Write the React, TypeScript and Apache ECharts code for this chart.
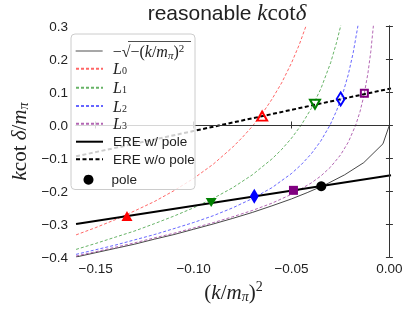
import React, { useEffect, useRef } from 'react';
import * as echarts from 'echarts';

// ---------- data ----------
const X_TICKS = [-0.15, -0.1, -0.05, 0];

const SQRT_CURVE: number[][] = [
  [-0.16, -0.4], [-0.15, -0.387], [-0.14, -0.374], [-0.13, -0.361], [-0.12, -0.346],
  [-0.11, -0.332], [-0.1, -0.316], [-0.09, -0.3], [-0.08, -0.283], [-0.07, -0.265],
  [-0.06, -0.245], [-0.05, -0.224], [-0.042, -0.205], [-0.0327, -0.181], [-0.0229, -0.151],
  [-0.0131, -0.114], [-0.0033, -0.057], [0, 0],
];

const L0_CURVE: number[][] = [
  [-0.16, -0.333], [-0.15, -0.311], [-0.14, -0.287], [-0.13, -0.26], [-0.12, -0.232],
  [-0.11, -0.199], [-0.1, -0.162], [-0.09, -0.119], [-0.08, -0.067], [-0.075, -0.037],
  [-0.07, -0.004], [-0.065, 0.034], [-0.06, 0.078], [-0.055, 0.128], [-0.05, 0.188],
  [-0.046, 0.244], [-0.0426, 0.3], [-0.04, 0.349],
];

const L1_CURVE: number[][] = [
  [-0.16, -0.377], [-0.15, -0.359], [-0.14, -0.34], [-0.13, -0.321], [-0.12, -0.299],
  [-0.11, -0.276], [-0.1, -0.251], [-0.09, -0.2225], [-0.08, -0.19], [-0.07, -0.151],
  [-0.06, -0.103], [-0.055, -0.074], [-0.05, -0.04], [-0.045, 0], [-0.04, 0.049],
  [-0.035, 0.11], [-0.03, 0.189], [-0.027, 0.25], [-0.0249, 0.3], [-0.023, 0.354],
];

const L2_CURVE: number[][] = [
  [-0.16, -0.392], [-0.15, -0.378], [-0.14, -0.364], [-0.13, -0.348], [-0.12, -0.332],
  [-0.11, -0.314], [-0.1, -0.2955], [-0.09, -0.275], [-0.08, -0.251], [-0.07, -0.223],
  [-0.06, -0.19], [-0.05, -0.147], [-0.045, -0.12], [-0.04, -0.088], [-0.035, -0.048],
  [-0.0303, 0], [-0.027, 0.043], [-0.024, 0.0915], [-0.021, 0.153], [-0.0185, 0.219],
  [-0.0161, 0.3], [-0.015, 0.346],
];

const L3_CURVE: number[][] = [
  [-0.16, -0.397], [-0.15, -0.384], [-0.14, -0.3705], [-0.13, -0.357], [-0.12, -0.342],
  [-0.11, -0.328], [-0.1, -0.312], [-0.09, -0.296], [-0.08, -0.278], [-0.07, -0.259],
  [-0.06, -0.237], [-0.05, -0.21], [-0.04, -0.176], [-0.035, -0.1545], [-0.03, -0.127],
  [-0.025, -0.091], [-0.021, -0.052], [-0.0172, 0], [-0.015, 0.041], [-0.013, 0.09],
  [-0.011, 0.156], [-0.0095, 0.223], [-0.0082, 0.3], [-0.0075, 0.352],
];

const ERE_POLE_LINE: number[][] = [[-0.16, -0.3], [0.0008, -0.152]];
const ERE_NOPOLE_LINE: number[][] = [[-0.16, -0.095], [0.0008, 0.111]];

// markers: L0, L1, L2, L3
const FILLED_MARKERS: number[][] = [[-0.134, -0.276], [-0.091, -0.235], [-0.069, -0.216], [-0.049, -0.198]];
const OPEN_MARKERS: number[][] = [[-0.065, 0.027], [-0.038, 0.063], [-0.0249, 0.079], [-0.0128, 0.096]];
const POLE_POINT: number[][] = [[-0.0348, -0.1855]];

const LEGEND_NAMES = ['sqrt', 'L0', 'L1', 'L2', 'L3', 'ERE w/ pole', 'ERE w/o pole', 'pole'];

const L_COLORS = ['rgba(255,0,0,0.6)', 'rgba(0,128,0,0.6)', 'rgba(0,0,255,0.6)', 'rgba(128,0,128,0.6)'];
const M_COLORS = ['#ff0000', '#008000', '#0000ff', '#800080'];
const M_SYMBOLS = ['triangle', 'triangle', 'diamond', 'rect'];
const M_ROTATE = [0, 180, 0, 0];
const M_FILLED_SIZE: any[] = [[11, 10], [11, 9], [9, 15], 9];
const M_OPEN_SIZE: any[] = [[10, 9], [10, 9], [8, 13], 7];

// legend row centres (px) – layout only
const LEGEND_ROW_Y = [49, 67.7, 86.7, 105, 122.7, 141.7, 159.3, 177.7];

const SANS = 'Liberation Sans';
const SERIF = 'Liberation Serif';

const fmtMinus = (s: string) => s.replace('-', '\u2212');

export default function App() {
  const ref = useRef<HTMLDivElement>(null);
  useEffect(() => {
    const chart = echarts.init(ref.current!, null, { renderer: 'svg' });

    const lSeries = [L0_CURVE, L1_CURVE, L2_CURVE, L3_CURVE].map((d, i) => ({
      name: 'L' + i,
      type: 'line',
      data: d,
      symbol: 'none',
      smooth: false,
      z: 3,
      lineStyle: { color: L_COLORS[i], width: 1, type: [3, 2] },
      itemStyle: { color: L_COLORS[i] },
    }));

    const filled = FILLED_MARKERS.map((p, i) => ({
      name: 'mf' + i,
      type: 'scatter',
      data: [p],
      symbol: M_SYMBOLS[i],
      symbolRotate: M_ROTATE[i],
      symbolSize: M_FILLED_SIZE[i],
      z: 6,
      itemStyle: { color: M_COLORS[i], opacity: 1 },
    }));
    const open = OPEN_MARKERS.map((p, i) => ({
      name: 'mo' + i,
      type: 'scatter',
      data: [p],
      symbol: M_SYMBOLS[i],
      symbolRotate: M_ROTATE[i],
      symbolSize: M_OPEN_SIZE[i],
      z: 6,
      itemStyle: { color: 'rgba(255,255,255,0)', borderColor: M_COLORS[i], borderWidth: 2, opacity: 1 },
    }));

    const legendText: Record<string, string> = {
      sqrt: '{sp| }{s2|\u2212\u221A\u2212(}{mi2|k}{s2|/}{mi2|m}{sub2|\u03C0}{s2|)}{sup|2}',
      L0: '{sp| }{mi|L}{sub|0}',
      L1: '{sp| }{mi|L}{sub|1}',
      L2: '{sp| }{mi|L}{sub|2}',
      L3: '{sp| }{mi|L}{sub|3}',
      'ERE w/ pole': '{sp| }{t|ERE w/ pole}',
      'ERE w/o pole': '{sp| }{t|ERE w/o pole}',
      pole: '{spp| }{t|pole}',
    };
    const legendRich = {
      sp: { width: 5, fontSize: 10 },
      spp: { width: 13, fontSize: 10 },
      t: { fontFamily: SANS, fontSize: 13.5, color: '#222', lineHeight: 14 },
      s2: { fontFamily: SERIF, fontSize: 16, color: '#222', lineHeight: 18 },
      mi2: { fontFamily: SERIF, fontStyle: 'italic', fontSize: 16, color: '#222', lineHeight: 18 },
      sub2: { fontFamily: SERIF, fontStyle: 'italic', fontSize: 11, color: '#222', lineHeight: 8, verticalAlign: 'bottom' },
      mi: { fontFamily: SERIF, fontStyle: 'italic', fontSize: 16, color: '#222', lineHeight: 14 },
      sub: { fontFamily: SERIF, fontSize: 10, color: '#222', lineHeight: 7, verticalAlign: 'bottom' },
      sup: { fontFamily: SERIF, fontSize: 11, color: '#222', lineHeight: 8, verticalAlign: 'top' },
    };

    const legends = LEGEND_NAMES.map((name, i) => {
      const isPole = name === 'pole';
      const h = isPole ? 10 : 14;
      const item: any = { name };
      if (isPole) item.icon = 'circle';
      else item.itemStyle = { opacity: 0 };
      if (name === 'sqrt') item.lineStyle = { color: '#777', width: 1.3 };
      return {
        orient: 'vertical',
        left: isPole ? 83.5 : 75,
        top: LEGEND_ROW_Y[i] - h / 2,
        itemWidth: isPole ? 10 : 27,
        itemHeight: h,
        padding: 0,
        z: 10,
        selectedMode: false,
        data: [item],
        formatter: (n: string) => legendText[n] || n,
        textStyle: { fontSize: 13.5, rich: legendRich },
      };
    });

    const option: any = {
      animation: false,
      grid: { left: 65, right: 16, top: 26, bottom: 52, show: false },
      graphic: [
        {
          type: 'text',
          x: 227,
          y: 1,
          z: 10,
          style: {
            text: '{a|reasonable }{i|k}{r|cot}{i|\u03B4}',
            align: 'center',
            verticalAlign: 'top',
            rich: {
              a: { fontFamily: SANS, fontSize: 21, fill: '#222', color: '#222' },
              i: { fontFamily: SERIF, fontStyle: 'italic', fontSize: 23, fill: '#222', color: '#222' },
              r: { fontFamily: SERIF, fontSize: 23, fill: '#222', color: '#222' },
            },
          },
        },
        {
          type: 'rect',
          z: 8,
          shape: { x: 71, y: 34, width: 124, height: 155.5, r: 4 },
          style: { fill: 'rgba(255,255,255,0.8)', stroke: '#cccccc', lineWidth: 1 },
        },
        {
          type: 'line',
          z: 100,
          shape: { x1: 128, y1: 41.5, x2: 191, y2: 41.5 },
          style: { stroke: '#222', lineWidth: 0.8 },
        },
      ],
      xAxis: [
        {
          type: 'value',
          min: -0.16,
          max: 0.0008,
          position: 'bottom',
          splitLine: { show: false },
          axisLine: { show: true, lineStyle: { color: '#333', width: 1 } },
          axisTick: { show: true, customValues: X_TICKS, length: 3.5, lineStyle: { color: '#333' } },
          axisLabel: {
            customValues: X_TICKS,
            formatter: (v: number) => fmtMinus(v.toFixed(2)),
            fontFamily: SANS,
            fontSize: 13.5,
            color: '#222',
            margin: 4,
          },
          name: '{r|(}{i|k}{r|/}{i|m}{sub|\u03C0}{r|)}{sup|2}',
          nameLocation: 'middle',
          nameGap: 21,
          nameTextStyle: {
            verticalAlign: 'top',
            rich: {
              r: { fontFamily: SERIF, fontSize: 21, color: '#222', lineHeight: 24 },
              i: { fontFamily: SERIF, fontStyle: 'italic', fontSize: 21, color: '#222', lineHeight: 24 },
              sub: { fontFamily: SERIF, fontStyle: 'italic', fontSize: 14, color: '#222', lineHeight: 10, verticalAlign: 'bottom' },
              sup: { fontFamily: SERIF, fontSize: 14, color: '#222', lineHeight: 12, verticalAlign: 'top' },
            },
          },
        },
        {
          type: 'value',
          min: -0.16,
          max: 0.0008,
          position: 'top',
          splitLine: { show: false },
          axisLine: { show: true, lineStyle: { color: '#333', width: 1 } },
          axisTick: { show: true, customValues: X_TICKS, length: 3.5, lineStyle: { color: '#333' } },
          axisLabel: { show: false },
        },
      ],
      yAxis: [
        {
          type: 'value',
          min: -0.4,
          max: 0.3,
          interval: 0.1,
          position: 'left',
          splitLine: { show: false },
          axisLine: { show: true, lineStyle: { color: '#333', width: 1 } },
          axisTick: { show: true, length: 3.5, lineStyle: { color: '#333' } },
          axisLabel: {
            formatter: (v: number) => fmtMinus((Math.abs(v) < 1e-9 ? 0 : v).toFixed(1)),
            fontFamily: SANS,
            fontSize: 13.5,
            color: '#222',
            margin: 8,
          },
          name: '{i|k}{r|cot }{i|\u03B4}{r|/}{i|m}{sub|\u03C0}',
          nameLocation: 'middle',
          nameGap: 40,
          nameRotate: 90,
          nameTextStyle: {
            rich: {
              r: { fontFamily: SERIF, fontSize: 21, color: '#222', lineHeight: 24 },
              i: { fontFamily: SERIF, fontStyle: 'italic', fontSize: 21, color: '#222', lineHeight: 24 },
              sub: { fontFamily: SERIF, fontStyle: 'italic', fontSize: 14, color: '#222', lineHeight: 10, verticalAlign: 'bottom' },
            },
          },
        },
        {
          type: 'value',
          min: -0.4,
          max: 0.3,
          interval: 0.1,
          position: 'right',
          splitLine: { show: false },
          axisLine: { show: true, lineStyle: { color: '#333', width: 1 } },
          axisTick: { show: true, length: 3.5, lineStyle: { color: '#333' } },
          axisLabel: { show: false },
        },
      ],
      legend: legends,
      series: [
        {
          name: 'sqrt',
          type: 'line',
          data: SQRT_CURVE,
          symbol: 'none',
          z: 3,
          lineStyle: { color: '#333', width: 0.9 },
          itemStyle: { color: '#333' },
          markLine: {
            silent: true,
            symbol: 'none',
            label: { show: false },
            lineStyle: { color: '#333', width: 1, type: 'solid' },
            data: [{ xAxis: 0 }, { yAxis: 0 }],
          },
        },
        ...lSeries,
        {
          name: 'ERE w/ pole',
          type: 'line',
          data: ERE_POLE_LINE,
          symbol: 'none',
          z: 4,
          lineStyle: { color: '#000', width: 2 },
          itemStyle: { color: '#000' },
        },
        {
          name: 'ERE w/o pole',
          type: 'line',
          data: ERE_NOPOLE_LINE,
          symbol: 'none',
          z: 4,
          lineStyle: { color: '#000', width: 2, type: [4, 2.5] },
          itemStyle: { color: '#000' },
        },
        {
          name: 'pole',
          type: 'scatter',
          data: POLE_POINT,
          symbol: 'circle',
          symbolSize: 10,
          z: 6,
          itemStyle: { color: '#000', opacity: 1 },
        },
        ...filled,
        ...open,
      ],
    };

    chart.setOption(option);
    return () => chart.dispose();
  }, []);

  return <div ref={ref} style={{ position: 'fixed', left: 0, top: 0, width: 407, height: 309 }} />;
}
